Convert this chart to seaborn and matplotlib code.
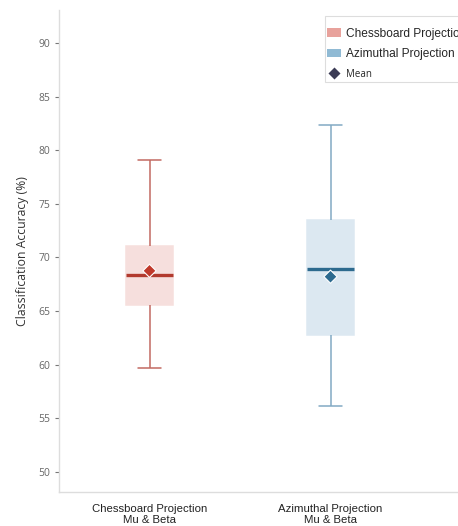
import numpy as np
import pandas as pd
import seaborn as sns
import matplotlib
matplotlib.use("Agg")
import matplotlib.pyplot as plt
from matplotlib.patches import Patch, Rectangle
from matplotlib.lines import Line2D

# Five-number summaries (whisker low, Q1, median, Q3, whisker high) per method
methods = ["Chessboard Projection\nMu & Beta", "Azimuthal Projection\nMu & Beta"]
chessboard_summary = [59.7, 65.6, 68.35, 71.05, 79.05]
azimuthal_summary = [56.15, 62.75, 68.9, 73.45, 82.35]
mean_acc = [68.75, 68.2]
legend_labels = ["Chessboard Projection", "Azimuthal Projection", "Mean"]

fill_colors = ["#F6DFDD", "#DCE8F1"]
line_colors = ["#C26A62", "#82AAC4"]
median_colors = ["#B23A2E", "#2D6A8E"]
mean_colors = ["#C0392B", "#2C6A8F"]
legend_patch_colors = ["#E8A29C", "#90BAD4"]
legend_mean_color = "#3B3B55"

summaries = [chessboard_summary, azimuthal_summary]

sns.set_theme(style="white")

W, H = 458, 526
fig = plt.figure(figsize=(W / 100, H / 100), dpi=100)
ax = fig.add_axes([59 / W, 34 / H, 411 / W, 482 / H])

for i, m in enumerate(methods):
    df = pd.DataFrame({"method": m, "acc": summaries[i]})
    sns.boxplot(
        data=df, x="method", y="acc", order=methods, ax=ax,
        width=0.255, color=fill_colors[i], linecolor=line_colors[i],
        linewidth=1.1, whis=1.5, showfliers=False,
        boxprops=dict(facecolor=fill_colors[i], edgecolor=fill_colors[i]),
        medianprops=dict(color=median_colors[i], linewidth=2.4),
        whiskerprops=dict(color=line_colors[i], linewidth=1.1),
        capprops=dict(color=line_colors[i], linewidth=1.1),
    )

means_df = pd.DataFrame({"method": methods, "mean": mean_acc})
sns.scatterplot(
    data=means_df, x="method", y="mean", hue="method",
    palette=dict(zip(methods, mean_colors)), marker="D", s=45,
    edgecolor="white", linewidth=0.8, legend=False, ax=ax, zorder=5,
)

ax.set_xlim(-0.5, -0.5 + 411 / 181)
ax.set_ylim(48.1, 93.1)
ax.set_yticks(np.arange(50, 91, 5))
ax.set_xlabel("")
ax.set_ylabel("Classification Accuracy (%)", family="Open Sans", fontsize=8.8,
              color="#333333", labelpad=7)

for s in ["top", "right"]:
    ax.spines[s].set_visible(False)
for s in ["left", "bottom"]:
    ax.spines[s].set_color("#DDDDDD")
    ax.spines[s].set_linewidth(1.0)

ax.tick_params(axis="y", left=True, length=3, width=0.8, color="#777777",
               labelsize=7.5, labelcolor="#666666", pad=3)
ax.tick_params(axis="x", bottom=False, labelsize=8.2, labelcolor="#222222", pad=3)
for t in ax.get_yticklabels():
    t.set_family("Open Sans")
for t in ax.get_xticklabels():
    t.set_family("Liberation Sans")
    t.set_linespacing(1.05)

# Legend frame drawn separately so the top/bottom padding can differ from the sides
fig.patches.append(Rectangle((325 / W, 1 - 82 / H), 150 / W, 66 / H,
                             transform=fig.transFigure, facecolor="white",
                             edgecolor="#DDDDDD", linewidth=0.8, zorder=4))

handles = [
    Patch(facecolor=legend_patch_colors[0], edgecolor="none"),
    Patch(facecolor=legend_patch_colors[1], edgecolor="none"),
    Line2D([], [], marker="D", linestyle="none", markersize=7.5,
           markerfacecolor=legend_mean_color, markeredgecolor="white"),
]
leg = fig.legend(
    handles, legend_labels, loc="upper left",
    bbox_to_anchor=(327 / W, 1 - 28 / H), bbox_transform=fig.transFigure,
    frameon=False, handlelength=1.2, handleheight=0.75,
    handletextpad=0.4, labelspacing=0.68, borderpad=0.0, borderaxespad=0.0,
    prop=dict(family="Liberation Sans", size=8.6),
)
leg.set_zorder(5)
leg.get_texts()[2].set_fontfamily("Open Sans")
leg.get_texts()[2].set_fontsize(7)

fig.savefig("out.png", dpi=100)
